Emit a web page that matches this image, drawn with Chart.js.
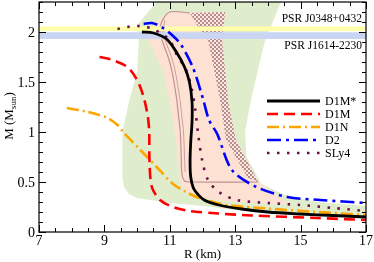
<!DOCTYPE html>
<html>
<head>
<meta charset="utf-8">
<script src="https://cdn.jsdelivr.net/npm/chart.js@4.4.1/dist/chart.umd.min.js"></script>
<style>
html, body { margin: 0; padding: 0; background: #fff; }
</style>
</head>
<body>
<canvas id="mr" width="374" height="262"></canvas>
<script>
// mass-radius curves, pairs of [R (km), M (Msun)]
var d1mStar = [[10.15,2.0],[10.5,1.99],[10.9,1.93],[11.2,1.8],[11.45,1.65],[11.6,1.5],[11.68,1.3],[11.68,1.1],[11.64,0.9],[11.62,0.7],[11.64,0.55],[11.72,0.44],[11.85,0.38],[12.05,0.32],[12.5,0.27],[13.2,0.23],[14,0.2],[15,0.18],[16,0.165],[17,0.15]];
var d1m = [[8.85,1.75],[9.25,1.72],[9.7,1.65],[10.0,1.52],[10.2,1.35],[10.33,1.15],[10.37,1.0],[10.38,0.7],[10.45,0.45],[10.7,0.32],[11.1,0.25],[11.6,0.21],[12.5,0.185],[13.5,0.165],[15.5,0.14],[17,0.12]];
var d1n = [[7.85,1.24],[8.5,1.2],[9.1,1.14],[9.4,1.07],[9.6,0.99],[10.1,0.82],[10.6,0.65],[11.1,0.48],[11.5,0.4],[11.9,0.34],[12.75,0.27],[14,0.235],[15.5,0.2],[17,0.17]];
var d2 = [[10.2,2.08],[10.45,2.09],[10.75,2.05],[11.1,1.96],[11.35,1.87],[11.7,1.65],[12.0,1.35],[12.2,1.12],[12.45,0.98],[12.9,0.62],[13.65,0.45],[14.6,0.35],[15.6,0.32],[17,0.29]];
var sly4 = [[9.4,2.03],[9.7,2.05],[10.0,2.06],[10.25,2.05],[10.5,2.03],[10.75,1.98],[11.0,1.92],[11.2,1.78],[11.5,1.62],[11.68,1.42],[11.78,1.22],[11.87,0.97],[12.0,0.7],[12.17,0.52],[12.5,0.4],[13.05,0.32],[14,0.29],[15,0.27],[16,0.24],[17,0.21]];

// shaded constraint regions (closed outlines)
var greenArea = [[10.6,2.3],[14.4,2.3],[13.9,1.9],[13.5,1.35],[13.3,1.0],[13.35,0.75],[13.8,0.48],[14.6,0.36],[15.5,0.3],[17,0.26],[17,0.15],[16,0.16],[15,0.175],[14,0.195],[13,0.22],[12,0.26],[11,0.29],[10.6,0.31],[10.0,0.34],[9.75,0.38],[9.6,0.45],[9.55,0.55],[9.55,1.0],[9.75,1.3],[10.0,1.6],[10.05,1.9],[10.0,2.07]];
var peachArea = [[10.95,2.2],[12.69,2.2],[12.6,1.92],[12.78,1.32],[13.02,0.92],[13.7,0.5],[14.65,0.28],[13.5,0.29],[12.6,0.31],[12.0,0.34],[11.5,0.4],[11.3,0.5],[11.25,0.75],[11.15,1.0],[11.0,1.3],[10.8,1.6],[10.45,1.85],[10.3,1.95],[10.5,2.08]];
var hatchArea = [[11.62,2.19],[12.69,2.2],[12.6,1.92],[12.78,1.32],[13.02,0.92],[13.7,0.5],[13.39,0.54],[12.72,0.92],[12.54,1.32],[12.17,1.92],[11.83,2.07]];
var outlineA = [[11.62,2.19],[11.0,2.2],[10.75,2.1],[10.7,2.0],[10.78,1.9],[10.95,1.75],[11.07,1.6],[11.2,1.35],[11.27,1.15],[11.32,1.0],[11.35,0.75],[11.37,0.58],[11.45,0.51],[11.6,0.5],[13.7,0.5]];
var outlineB = [[10.85,2.12],[10.8,2.0],[10.88,1.9],[11.05,1.75],[11.17,1.6],[11.3,1.35],[11.37,1.15],[11.42,1.0],[11.45,0.75],[11.47,0.6]];

// pulsar mass bands
var bandJ0348 = [[7,2.01],[17,2.01],[17,2.055],[7,2.055]];
var bandJ1614 = [[7,1.93],[17,1.93],[17,1.997],[7,1.997]];

var xMajor = [7, 9, 11, 13, 15, 17];
var yMajor = [0, 0.5, 1, 1.5, 2];

var serif = '"Liberation Serif", "DejaVu Serif", serif';

function pts(a) {
	return a.map(function(p) { return {x: p[0], y: p[1]}; });
}

var canvas = document.getElementById('mr');
var ctx0 = canvas.getContext('2d');

var pc = document.createElement('canvas');
pc.width = 4; pc.height = 4;
var pg = pc.getContext('2d');
pg.fillStyle = '#fbe8e0';
pg.fillRect(0, 0, 4, 4);
pg.fillStyle = '#b88c8c';
pg.fillRect(0, 0, 2, 2);
pg.fillRect(2, 2, 2, 2);
var hatch = ctx0.createPattern(pc, 'repeat');

function curve(label, data, color, width, dash, order) {
	return {
		label: label, data: pts(data), borderColor: color, borderWidth: width,
		borderDash: dash, pointRadius: 0, fill: false, tension: 0.3, order: order
	};
}
function area(data, color, order) {
	return {
		label: '', data: pts(data), borderColor: 'rgba(0,0,0,0)', borderWidth: 0,
		backgroundColor: color, pointRadius: 0, fill: 'shape', tension: 0, order: order
	};
}

var series = [
	curve('D1M*', d1mStar, '#000000', 2.8, [], 1),
	curve('D1M', d1m, '#ff0000', 2.6, [11, 6], 2),
	curve('D1N', d1n, '#ffa500', 2.6, [12, 4, 2, 4], 3),
	curve('D2', d2, '#0000ff', 2.6, [14, 5, 3, 5], 4),
	curve('SLy4', sly4, '#6a1048', 2.6, [2.5, 7.5], 5)
];

var datasets = series.concat([
	area(bandJ0348, '#ffffaa', 10),
	area(bandJ1614, '#c9d5f3', 11),
	curve('', outlineB, '#c9a0a0', 1, [], 12),
	curve('', outlineA, '#c09090', 1.2, [], 13),
	area(hatchArea, hatch, 14),
	area(peachArea, '#fde2d4', 15),
	area(greenArea, '#e0edcd', 16)
]);
datasets.forEach(function(d) { if (d.label === '') d.tension = 0; });
datasets[7].tension = 0.3;
datasets[8].tension = 0.3;

var decor = {
	id: 'decor',
	afterDraw: function(chart) {
		var ctx = chart.ctx, a = chart.chartArea;
		var xs = chart.scales.x, ys = chart.scales.y;
		ctx.save();
		ctx.strokeStyle = '#000';
		ctx.lineWidth = 1.2;
		ctx.strokeRect(a.left, a.top, a.right - a.left, a.bottom - a.top);

		ctx.lineWidth = 1;
		ctx.beginPath();
		for (var i = 0; i <= 20; i++) {
			var v = 7 + i * 0.5, px = Math.round(xs.getPixelForValue(v)) + 0.5;
			var len = (i % 4 === 0) ? 7 : 4;
			ctx.moveTo(px, a.bottom); ctx.lineTo(px, a.bottom - len);
			ctx.moveTo(px, a.top); ctx.lineTo(px, a.top + len);
		}
		for (var j = 0; j <= 23; j++) {
			var py = Math.round(ys.getPixelForValue(j / 10)) + 0.5;
			var l2 = (j % 5 === 0) ? 7 : 4;
			ctx.moveTo(a.left, py); ctx.lineTo(a.left + l2, py);
			ctx.moveTo(a.right, py); ctx.lineTo(a.right - l2, py);
		}
		ctx.stroke();

		ctx.fillStyle = '#000';
		ctx.font = '14px ' + serif;
		ctx.textAlign = 'center';
		ctx.textBaseline = 'alphabetic';
		xMajor.forEach(function(v) {
			ctx.fillText(String(v), xs.getPixelForValue(v), 245);
		});
		ctx.textAlign = 'right';
		yMajor.forEach(function(v) {
			ctx.fillText(String(v), 35, ys.getPixelForValue(v) + 4.5);
		});

		ctx.textAlign = 'center';
		ctx.font = '13px ' + serif;
		ctx.fillText('R (km)', (a.left + a.right) / 2, 258);

		// y title with subscript
		ctx.save();
		ctx.translate(13, 116);
		ctx.rotate(-Math.PI / 2);
		ctx.textAlign = 'left';
		var big = '13px ' + serif, small = '9px ' + serif;
		ctx.font = big;
		var wa = ctx.measureText('M (M').width, wc = ctx.measureText(')').width;
		ctx.font = small;
		var wb = ctx.measureText('sun').width;
		var x0 = -(wa + wb + wc) / 2;
		ctx.font = big;
		ctx.fillText('M (M', x0, 0);
		ctx.font = small;
		ctx.fillText('sun', x0 + wa, 3);
		ctx.font = big;
		ctx.fillText(')', x0 + wa + wb, 0);
		ctx.restore();

		ctx.font = '11.5px ' + serif;
		ctx.textAlign = 'right';
		ctx.fillText('PSR J0348+0432', 362, 22);
		ctx.fillText('PSR J1614-2230', 362, 48.5);

		// legend
		ctx.font = '12px ' + serif;
		ctx.textAlign = 'left';
		ctx.textBaseline = 'middle';
		series.forEach(function(s, k) {
			var y = 101 + k * 13;
			ctx.save();
			ctx.strokeStyle = s.borderColor;
			ctx.lineWidth = s.borderWidth;
			ctx.setLineDash(s.borderDash);
			ctx.beginPath();
			ctx.moveTo(267, y); ctx.lineTo(320, y);
			ctx.stroke();
			ctx.restore();
			ctx.fillText(s.label, 325, y + 0.5);
		});
		ctx.restore();
	}
};

new Chart(canvas, {
	type: 'line',
	data: { datasets: datasets },
	options: {
		responsive: false,
		devicePixelRatio: 1,
		animation: false,
		layout: { padding: { left: 0, right: 8, top: 2, bottom: 0 } },
		plugins: { legend: { display: false }, tooltip: { enabled: false } },
		scales: {
			x: {
				type: 'linear', min: 7, max: 17,
				ticks: { display: false }, grid: { display: false }, border: { display: false },
				afterFit: function(s) { s.height = 30; }
			},
			y: {
				type: 'linear', min: 0, max: 2.3,
				ticks: { display: false }, grid: { display: false }, border: { display: false },
				afterFit: function(s) { s.width = 39; }
			}
		}
	},
	plugins: [decor]
});
</script>
</body>
</html>
